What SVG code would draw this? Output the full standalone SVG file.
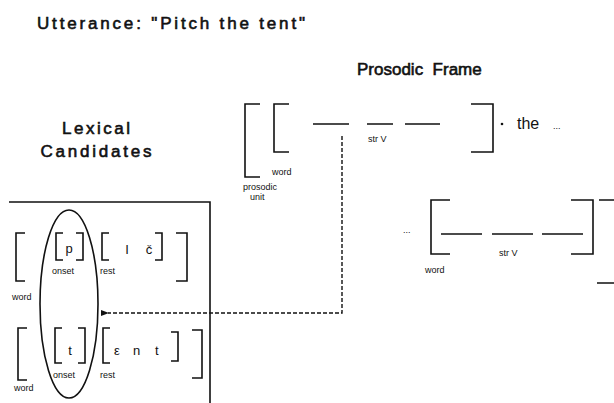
<svg xmlns="http://www.w3.org/2000/svg" width="614" height="403" viewBox="0 0 614 403">
<defs>
<style>
.t{font-family:"Liberation Sans",Arial,sans-serif;fill:#111}
.h{font-size:17px;stroke:#111;stroke-width:0.6}
.s{font-size:9px}
.ph{font-size:13px}
.b{fill:none;stroke:#111;stroke-width:1.6}
.c{fill:none;stroke:#111;stroke-width:1.4;stroke-dasharray:4 2}
</style>
<marker id="ah" markerWidth="8" markerHeight="6" refX="1" refY="3" orient="auto-start-reverse" markerUnits="userSpaceOnUse">
<path d="M8,0 L0,3 L8,6 Z" fill="#111"/>
</marker>
</defs>
<rect width="614" height="403" fill="#fff"/>

<g id="title">
<text class="t h" x="37" y="29" textLength="268" lengthAdjust="spacing">Utterance:  "Pitch the tent"</text>
</g>

<g id="prosodic-frame-title">
<text class="t h" x="357" y="75" font-size="15" xml:space="preserve">Prosodic  Frame</text>
</g>

<g id="lexical-title">
<text class="t h" x="96" y="134" text-anchor="middle" textLength="68" lengthAdjust="spacing">Lexical</text>
<text class="t h" x="96" y="157" text-anchor="middle" textLength="111" lengthAdjust="spacing">Candidates</text>
</g>

<g id="prosodic-frame-1">
<path class="b" d="M260,104 H245 V177 H260"/>
<path class="b" d="M289,104 H274 V152 H289"/>
<path class="b" d="M313,124 H349 M367,124 H393 M405,124 H440"/>
<path class="b" d="M471,104 H493 V152 H471"/>
<circle cx="502" cy="124" r="1.3" fill="#111"/>
<text class="t s" x="368" y="142">str V</text>
<text class="t s" x="272" y="175">word</text>
<text class="t s" x="243" y="190">prosodic</text>
<text class="t s" x="250" y="200">unit</text>
<text class="t" x="517" y="129" font-size="16">the</text>
<text class="t" x="553" y="129" font-size="9">...</text>
</g>

<g id="prosodic-frame-2">
<text class="t" x="403" y="233" font-size="9">...</text>
<path class="b" d="M450,200 H431 V254 H450"/>
<path class="b" d="M441,234 H482 M492,234 H533 M542,234 H583"/>
<path class="b" d="M571,200 H593 V254 H571"/>
<path class="b" d="M599,200 H614 M597,283 H614"/>
<text class="t s" x="499" y="256">str V</text>
<text class="t s" x="425" y="273">word</text>
</g>

<g id="lexical-candidates">
<path class="b" d="M9,202 H210 V403"/>
<path class="b" d="M25,233 H16 V281 H25"/>
<path class="b" d="M63,233 H56 V260 H63 M76,233 H83 V260 H76"/>
<text class="t ph" x="69" y="253" text-anchor="middle">p</text>
<text class="t s" x="52" y="274">onset</text>
<path class="b" d="M109,233 H102 V260 H109"/>
<text class="t ph" x="127" y="254" text-anchor="middle" font-family="Liberation Serif,serif">I</text>
<text class="t ph" x="149" y="254" text-anchor="middle">č</text>
<path class="b" d="M155,233 H162 V260 H155"/>
<text class="t s" x="100" y="274">rest</text>
<path class="b" d="M176,233 H187 V281 H176"/>
<text class="t s" x="12" y="300">word</text>
<path class="b" d="M27,328 H18 V380 H27"/>
<path class="b" d="M62,328 H55 V363 H62 M78,328 H85 V363 H78"/>
<text class="t ph" x="70" y="355" text-anchor="middle">t</text>
<text class="t s" x="53" y="378">onset</text>
<path class="b" d="M110,328 H103 V363 H110"/>
<text class="t ph" x="114" y="355">ε</text>
<text class="t ph" x="133" y="355">n</text>
<text class="t ph" x="155" y="355">t</text>
<path class="b" d="M171,332 H178 V361 H171"/>
<text class="t s" x="100" y="378">rest</text>
<path class="b" d="M192,330 H202 V378 H192"/>
<text class="t s" x="14" y="391">word</text>
<ellipse class="b" cx="69" cy="304" rx="29" ry="94"/>
</g>

<g id="connectors">
<path class="c" d="M342,136 V313 H108" marker-end="url(#ah)"/>
</g>
</svg>
